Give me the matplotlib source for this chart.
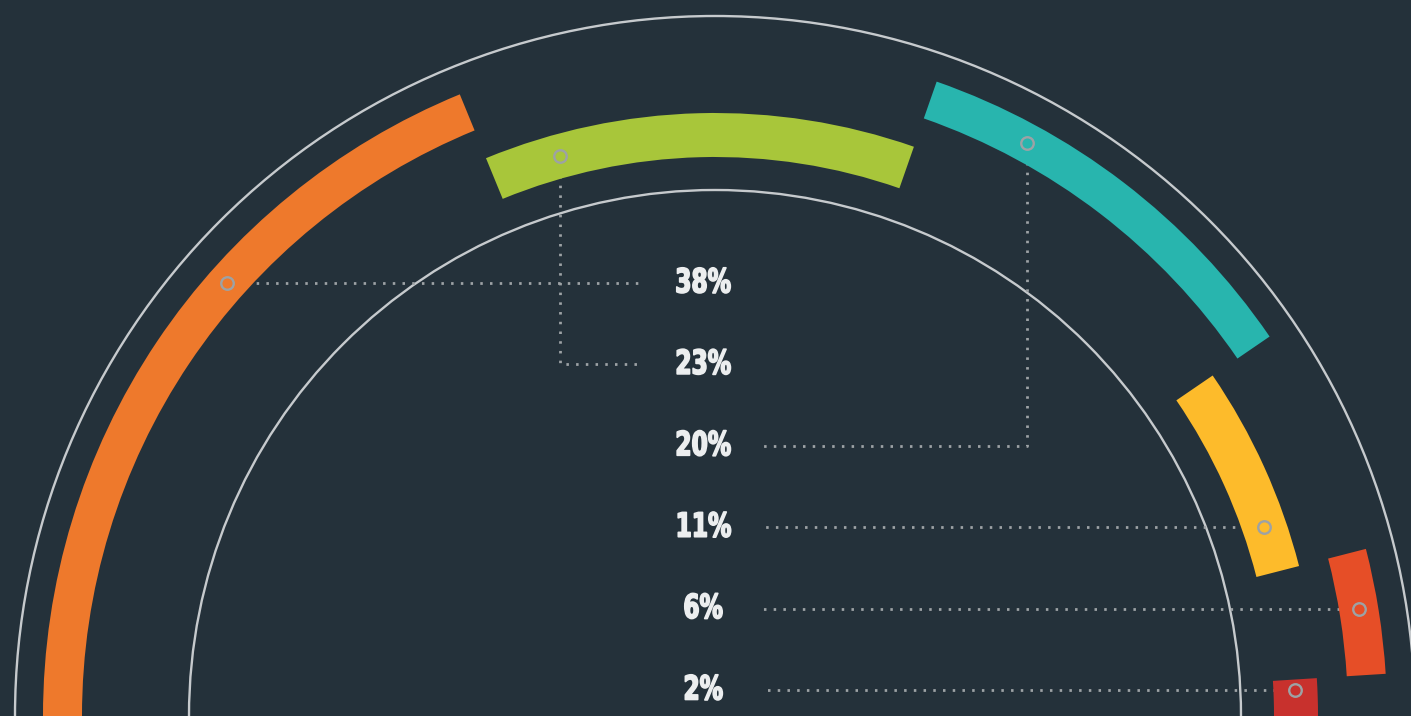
import numpy as np
import matplotlib.pyplot as plt
from matplotlib.patches import Wedge, Circle
from matplotlib.patheffects import AbstractPathEffect
from matplotlib.transforms import Affine2D

# data
labels = ['38%', '23%', '20%', '11%', '6%', '2%']
shares = [37.6, 23.1, 20.2, 11.1, 6.0, 2.0]
colors = ['#ee792c', '#a8c63a', '#28b5ae', '#fdbb2b', '#e64e27', '#c8312d']
ring = ['outer', 'inner', 'outer', 'inner', 'outer', 'inner']
# how the leader line leaves each arc: 'h' = straight across, 'v' = down then across
leader = ['h', 'v', 'v', 'h', 'h', 'h']
leader_x = [None, 560, 1027, None, None, None]

BG = '#24313a'
GUIDE = '#c6cacd'
DOT = '#9da2a5'
TXT = '#eceeef'

cx, cy = 715, 0
rings = {'outer': (633, 672), 'inner': (559, 603)}
label_x = 703
row0, row_step = 716 - 283, 81.4


class Squeeze(AbstractPathEffect):
    """narrow (and thicken a little) the glyphs, like a heavy condensed face"""
    def __init__(self, sx, stroke=1.0):
        super().__init__()
        self.sx = sx
        self.stroke = stroke

    def draw_path(self, renderer, gc, tpath, affine, rgbFace=None):
        ext = tpath.get_extents(affine)
        xm = (ext.x0 + ext.x1) / 2.0
        aff = affine + Affine2D().translate(-xm, 0).scale(self.sx, 1).translate(xm, 0)
        gc0 = renderer.new_gc()
        gc0.copy_properties(gc)
        gc0.set_linewidth(self.stroke)
        gc0.set_foreground(rgbFace)
        gc0.set_joinstyle('round')
        renderer.draw_path(gc0, tpath, aff, rgbFace)
        gc0.restore()


fig = plt.figure(figsize=(14.11, 7.16), dpi=100, facecolor=BG)
ax = fig.add_axes([0, 0, 1, 1])
ax.set_facecolor(BG)
ax.set_xlim(0, 1411)
ax.set_ylim(0, 716)
ax.set_aspect('equal')
ax.axis('off')

# guide circles
for r in (700, 526):
    ax.add_patch(Circle((cx, cy), r, fill=False, ec=GUIDE, lw=1.7, zorder=1))

dot_style = dict(color=DOT, lw=2.0, ls=(0, (0.9, 2.6)), dash_capstyle='butt', zorder=2)

start = 180.0
for i, (lab, s, c, rg) in enumerate(zip(labels, shares, colors, ring)):
    span = 180.0 * s / 100.0
    r0, r1 = rings[rg]
    ax.add_patch(Wedge((cx, cy), r1, max(start - span, 0), start, width=r1 - r0,
                       fc=c, ec='none', zorder=3))
    rm = (r0 + r1) / 2.0
    ry = row0 - i * row_step
    left = (start - span / 2.0) > 90
    if leader[i] == 'h':
        ang = np.arcsin(ry / rm)
        mx = cx + rm * np.cos(ang) * (-1 if left else 1)
        my = ry
        end_x = label_x - 62 if left else label_x + 58
        ax.plot([mx, end_x], [ry, ry], **dot_style)
    else:
        mx = leader_x[i]
        my = cy + np.sqrt(rm ** 2 - (mx - cx) ** 2)
        end_x = label_x - 62 if mx < cx else label_x + 58
        ax.plot([mx, mx, end_x], [my, ry, ry], **dot_style)
    ax.plot(mx, my, 'o', ms=9, mfc=c, mec=DOT, mew=1.7, zorder=4)
    ax.text(label_x, ry, lab, ha='center', va='center', color=TXT,
            fontsize=24, fontweight='bold', family='DejaVu Sans', zorder=5,
            path_effects=[Squeeze(0.70, 1.2)])
    start -= span

fig.savefig('out.png', dpi=100, facecolor=BG)
